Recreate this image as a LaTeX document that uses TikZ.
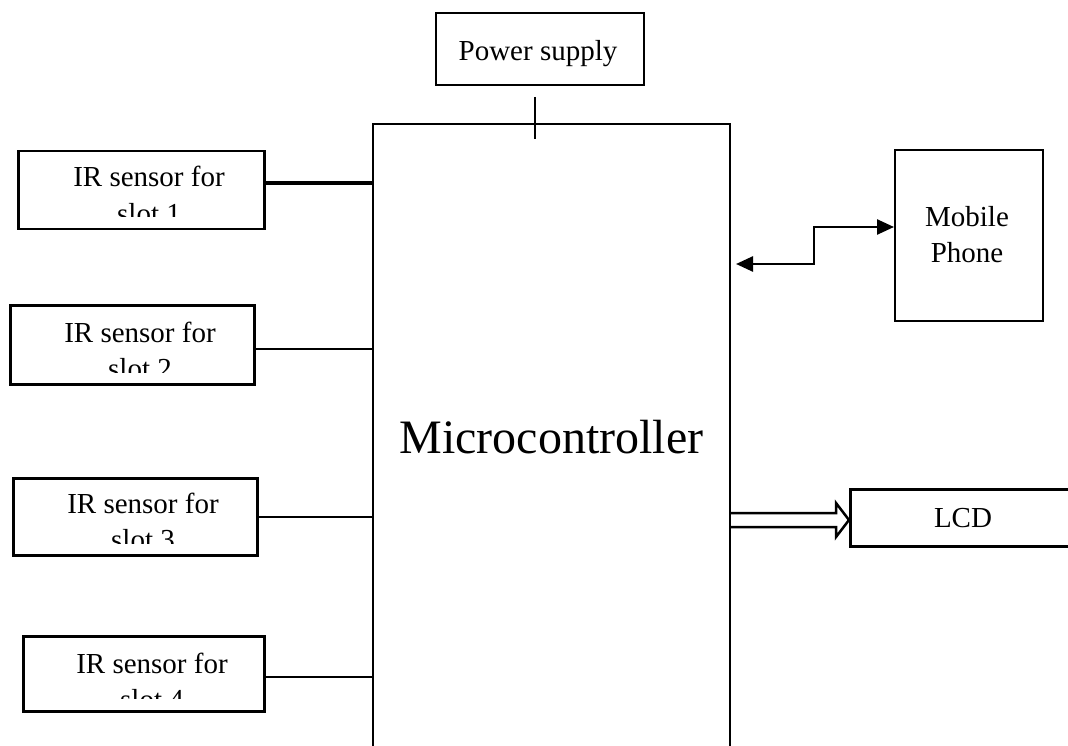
\documentclass[tikz,border=0pt]{standalone}
\usepackage{fontspec}
\setmainfont{Liberation Serif}
\usetikzlibrary{arrows.meta,calc}
\begin{document}
\begin{tikzpicture}[x=1pt,y=-1pt,
  box/.style={draw, line width=2.5pt, rectangle, inner sep=0pt, anchor=north west},
  lbl/.style={font=\fontsize{29}{36}\selectfont, align=center, inner sep=0pt, anchor=base},
  wire/.style={line width=2.2pt},
]
\useasboundingbox (0,0) rectangle (1068,746);

% sensors
\node[box, minimum width=246, minimum height=78] (s1) at (17,150) {};
\node[box, minimum width=244, minimum height=79] (s2) at (9,304) {};
\node[box, minimum width=244, minimum height=77] (s3) at (12,477) {};
\node[box, minimum width=241, minimum height=75] (s4) at (22,635) {};

\begin{scope}
  \clip (s1.north west) rectangle (s1.east |- 0,217);
  \node[lbl] (t1) at (149,223) {IR sensor for\\slot 1};
\end{scope}
\begin{scope}
  \clip (s2.north west) rectangle (s2.east |- 0,372);
  \node[lbl] (t2) at (140,378) {IR sensor for\\slot 2};
\end{scope}
\begin{scope}
  \clip (s3.north west) rectangle (s3.east |- 0,543);
  \node[lbl] (t3) at (143,549) {IR sensor for\\slot 3};
\end{scope}
\begin{scope}
  \clip (s4.north west) rectangle (s4.east |- 0,698);
  \node[lbl] (t4) at (152,709) {IR sensor for\\slot 4};
\end{scope}

% microcontroller
\node[draw, line width=1.8pt, rectangle, inner sep=0pt, anchor=north west,
      minimum width=357, minimum height=627,
      font=\fontsize{48}{58}\selectfont] (mc) at (372,123) {Microcontroller};

% power supply
\node[box, line width=2pt, minimum width=208, minimum height=72] (ps) at (435,12) {};
\node[lbl] (pst) at (538,61) {Power supply};
\coordinate (pw1) at (535,97);
\coordinate (pw2) at (535,139);
\draw[line width=1.8pt] (pw1) -- (pw2);

% mobile phone
\node[box, line width=2pt, minimum width=148, minimum height=171] (mob) at (894,149) {};
\node[lbl] (mobt) at (967,262) {Mobile\\Phone};

% LCD
\node[box, minimum width=230, minimum height=57] (lcd) at (849,488) {};
\node[lbl] (lcdt) at (963,527) {LCD};

% connectors
\draw[line width=3.2pt] (s1.east |- 0,183) -- (mc.west |- 0,183);
\draw[wire] (s2.east |- 0,349) -- (mc.west |- 0,349);
\draw[wire] (s3.east |- 0,517) -- (mc.west |- 0,517);
\draw[wire] (s4.east |- 0,677) -- (mc.west |- 0,677);

\coordinate (mp) at (736,264);
\draw[wire, line width=2.5pt, {Triangle[length=17pt,width=15pt]}-{Triangle[length=17pt,width=15pt]}]
  (mp) -- (814,264) |- (mob.west |- 0,227);

\draw[line width=2.5pt, line join=miter]
  (mc.east |- 0,513) -- (836,513) -- (836,503) -- (lcd.west |- 0,520)
  -- (836,537) -- (836,527) -- (mc.east |- 0,527);
\end{tikzpicture}
\end{document}
